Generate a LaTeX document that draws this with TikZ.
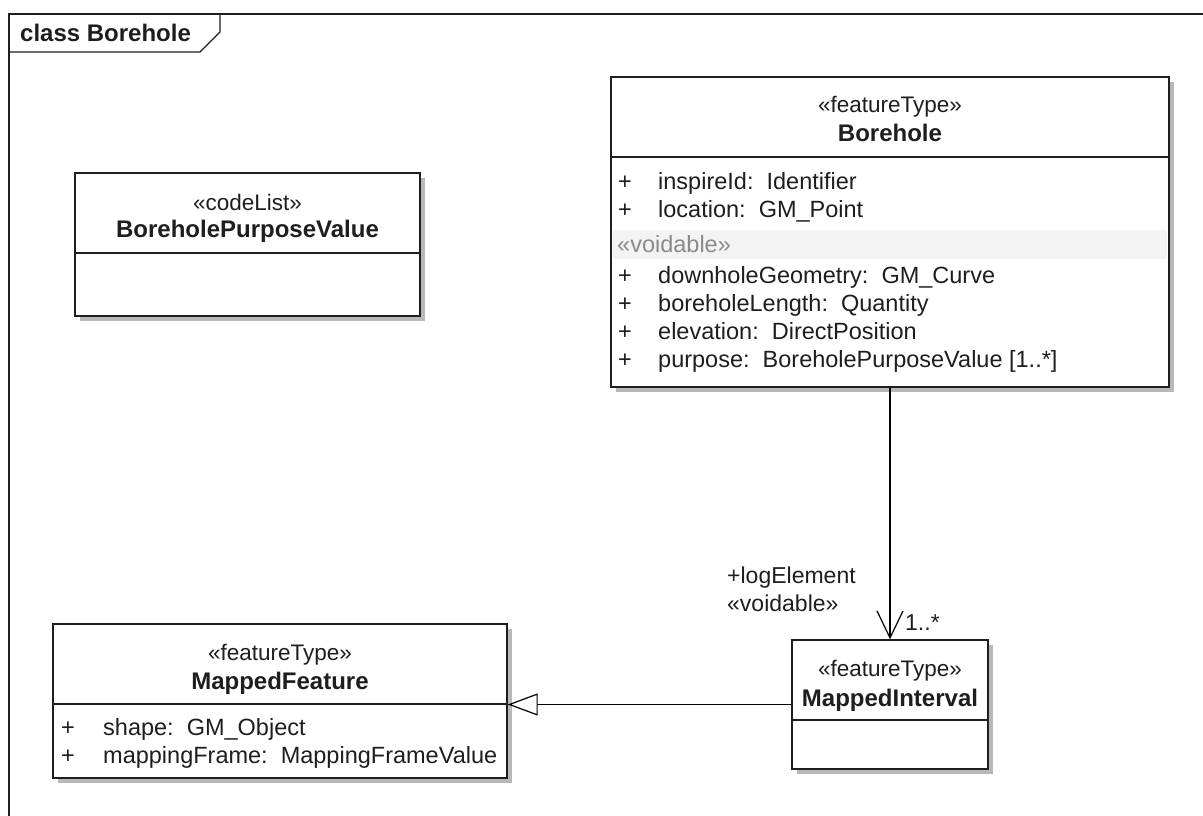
\documentclass[tikz,border=0pt]{standalone}
\usepackage{fontspec}
\setmainfont{Liberation Sans}
\usetikzlibrary{arrows.meta,shadows}
\definecolor{ink}{HTML}{1E1E1E}
\definecolor{shade}{HTML}{B8B8B8}
\definecolor{band}{HTML}{F3F3F3}
\definecolor{faint}{HTML}{8A8A8A}
\tikzset{
  cls/.style={draw=ink, line width=1.4pt, fill=white, inner sep=0pt,
    general shadow={shadow xshift=5pt, shadow yshift=-5pt, fill=shade}},
  ster/.style={font=\fontsize{22.5}{26}\selectfont, text=ink, inner sep=0pt, anchor=base},
  cname/.style={font=\fontsize{24}{28}\selectfont\bfseries, text=ink, inner sep=0pt, anchor=base},
  attr/.style={font=\fontsize{23.5}{27}\selectfont, text=ink, inner sep=0pt, anchor=base west},
  sep/.style={draw=ink, line width=1.4pt},
  link/.style={draw=black, line width=1.2pt},
  role/.style={font=\fontsize{23}{27}\selectfont, text=ink, inner sep=0pt, anchor=base west}
}
\begin{document}
\begin{tikzpicture}[x=1pt, y=-1pt]
\useasboundingbox[fill=white] (0,0) rectangle (1203,816);

% diagram frame and its name tab
\draw[ink, line width=1.4pt] (1203,14) -- (9,14) -- (9,816);
\draw[ink, line width=1.4pt] (220,14) -- (220,32) -- (200,52) -- (9,52);
\node[cname, anchor=base west] (frametitle) at (20,42) {class Borehole};

% Borehole
\node[cls, minimum width=558pt, minimum height=310pt] (bh) at (890,232) {};
\draw[sep] (611,157) -- (1169,157);
\fill[band] (613,230) rectangle (1167,259);
\node[ster] (bhst) at (890,113) {«featureType»};
\node[cname] (bhname) at (890,142) {Borehole};
\node[attr] (bhp1) at (618,189) {+};
\node[attr] (bha1) at (658,189) {inspireId:\ \ Identifier};
\node[attr] (bhp2) at (618,217) {+};
\node[attr] (bha2) at (658,217) {location:\ \ GM\_Point};
\node[attr, text=faint] (bhvoid) at (617,252) {«voidable»};
\node[attr] (bhp3) at (618,283) {+};
\node[attr] (bha3) at (658,283) {downholeGeometry:\ \ GM\_Curve};
\node[attr] (bhp4) at (618,311) {+};
\node[attr] (bha4) at (658,311) {boreholeLength:\ \ Quantity};
\node[attr] (bhp5) at (618,339) {+};
\node[attr] (bha5) at (658,339) {elevation:\ \ DirectPosition};
\node[attr] (bhp6) at (618,367) {+};
\node[attr] (bha6) at (658,367) {purpose:\ \ BoreholePurposeValue [1..*]};

% BoreholePurposeValue
\node[cls, minimum width=345pt, minimum height=143pt] (bpv) at (247.5,244.5) {};
\draw[sep] (75,253) -- (420,253);
\node[ster] (bpvst) at (247.5,210) {«codeList»};
\node[cname] (bpvname) at (247.5,237) {BoreholePurposeValue};

% MappedFeature
\node[cls, minimum width=454pt, minimum height=154pt] (mf) at (280,701) {};
\draw[sep] (53,704) -- (507,704);
\node[ster] (mfst) at (280,660) {«featureType»};
\node[cname] (mfname) at (280,689) {MappedFeature};
\node[attr] (mfp1) at (61,735) {+};
\node[attr] (mfa1) at (103,735) {shape:\ \ GM\_Object};
\node[attr] (mfp2) at (61,763) {+};
\node[attr] (mfa2) at (103,763) {mappingFrame:\ \ MappingFrameValue};

% MappedInterval
\node[cls, minimum width=196pt, minimum height=129pt] (mi) at (890,704.5) {};
\draw[sep] (792,720) -- (988,720);
\node[ster] (mist) at (890,676) {«featureType»};
\node[cname] (miname) at (890,706) {MappedInterval};

% association Borehole -> MappedInterval
\draw[link, -{Straight Barb[length=27pt, width=26pt]}] (bh.south) -- (mi.north);
\node[role] (rolename) at (727,583) {+logElement};
\node[role] (rolester) at (727,611) {«voidable»};
\node[role] (mult) at (905,630) {1..*};

% generalisation MappedInterval -> MappedFeature
\draw[link, -{Triangle[open, length=30pt, width=22pt, fill=white]}] (mi.west) -- (mi.west -| mf.east);
\end{tikzpicture}
\end{document}
